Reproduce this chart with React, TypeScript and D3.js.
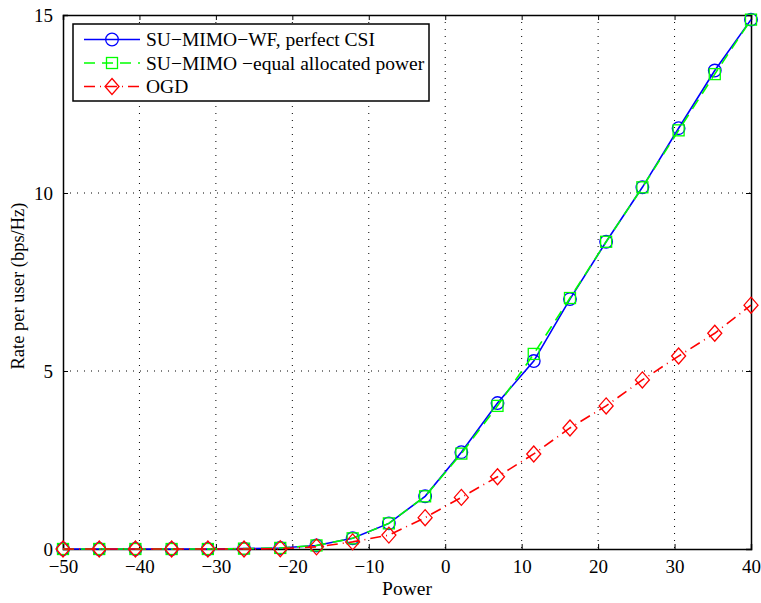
import * as d3 from "d3";
import { useEffect, useRef } from "react";

const powerDb = [
	-50, -45.26, -40.53, -35.79, -31.05, -26.32, -21.58, -16.84, -12.11, -7.37,
	-2.63, 2.11, 6.84, 11.58, 16.32, 21.05, 25.79, 30.53, 35.26, 40,
];
const wfRate = [
	0, 0, 0, 0, 0, 0.01, 0.03, 0.1, 0.3, 0.72, 1.48, 2.72, 4.1, 5.28, 7.02, 8.63,
	10.16, 11.82, 13.44, 14.87,
];
const equalRate = [
	0, 0, 0, 0, 0, 0.01, 0.03, 0.1, 0.3, 0.72, 1.48, 2.68, 4.02, 5.48, 7.05, 8.63,
	10.16, 11.76, 13.34, 14.87,
];
const ogdRate = [
	0, 0, 0, 0, 0, 0, 0.01, 0.06, 0.2, 0.39, 0.88, 1.45, 2.03, 2.67, 3.4, 4.02,
	4.75, 5.42, 6.06, 6.85,
];
const xTicks = [-50, -40, -30, -20, -10, 0, 10, 20, 30, 40];
const yTicks = [0, 5, 10, 15];
const legendLabels = [
	"SU\u2212MIMO\u2212WF, perfect CSI",
	"SU\u2212MIMO \u2212equal allocated power",
	"OGD",
];

function RateChart() {
	const ref = useRef<SVGSVGElement>(null);

	function drawChart() {
		const svg = d3.select(ref.current);
		svg.selectAll("*").remove();
		const margin = { top: 15, left: 63, right: 10, bottom: 54 };
		const width = 761 - margin.left - margin.right;
		const height = 603 - margin.top - margin.bottom;
		const font = "Liberation Serif, DejaVu Serif, serif";

		const xScale = d3.scaleLinear().domain([-50, 40]).range([0, width]);
		const yScale = d3.scaleLinear().domain([0, 15]).range([height, 0]);

		const g = svg
			.append("g")
			.attr("transform", `translate(${margin.left},${margin.top})`);

		// dotted grid
		g.selectAll(".vgrid")
			.data(xTicks.slice(1, -1))
			.enter()
			.append("line")
			.attr("x1", (d) => xScale(d))
			.attr("x2", (d) => xScale(d))
			.attr("y1", 0)
			.attr("y2", height)
			.attr("stroke", "#000")
			.attr("stroke-width", 1)
			.attr("stroke-dasharray", "1,6");
		g.selectAll(".hgrid")
			.data(yTicks.slice(1, -1))
			.enter()
			.append("line")
			.attr("x1", 0)
			.attr("x2", width)
			.attr("y1", (d) => yScale(d))
			.attr("y2", (d) => yScale(d))
			.attr("stroke", "#000")
			.attr("stroke-width", 1)
			.attr("stroke-dasharray", "1,6");

		// axes, ticks pointing inward
		const xAxis = d3
			.axisBottom(xScale)
			.tickValues(xTicks)
			.tickSize(-5)
			.tickPadding(11)
			.tickFormat((d) => d3.format("")(d as number).replace("-", "\u2212"));
		const yAxis = d3
			.axisLeft(yScale)
			.tickValues(yTicks)
			.tickSize(-5)
			.tickPadding(10);

		const xa = g.append("g").attr("transform", `translate(0,${height})`).call(xAxis);
		const ya = g.append("g").call(yAxis);
		g.append("g").call(d3.axisTop(xScale).tickValues(xTicks).tickSize(-5).tickFormat(() => ""));
		g.append("g")
			.attr("transform", `translate(${width},0)`)
			.call(d3.axisRight(yScale).tickValues(yTicks).tickSize(-5).tickFormat(() => ""));
		g.selectAll("g").attr("font-family", font);
		[xa, ya].forEach((a) => {
			a.selectAll("text")
				.attr("font-family", font)
				.attr("font-size", 19)
				.attr("fill", "#000");
		});
		g.selectAll(".domain").attr("stroke", "#000").attr("stroke-width", 1.5);
		g.selectAll(".tick line").attr("stroke", "#000");
		ya.selectAll(".tick text").attr("dy", "0.35em");

		// series
		const series = [
			{ values: wfRate, color: "#0000ff", dash: "none", marker: "circle" },
			{ values: equalRate, color: "#00ff00", dash: "11,7", marker: "square" },
			{ values: ogdRate, color: "#ff0000", dash: "11,5,1,5", marker: "diamond" },
		];

		const line = d3
			.line<number>()
			.x((d, i) => xScale(powerDb[i]))
			.y((d) => yScale(d));

		function drawMarker(sel: any, kind: string, color: string) {
			if (kind === "circle") {
				sel.append("circle")
					.attr("r", 6.3)
					.attr("fill", "none")
					.attr("stroke", color)
					.attr("stroke-width", 1.3);
			} else if (kind === "square") {
				sel.append("rect")
					.attr("x", -5.5)
					.attr("y", -5.5)
					.attr("width", 11)
					.attr("height", 11)
					.attr("fill", "none")
					.attr("stroke", color)
					.attr("stroke-width", 1.3);
			} else {
				sel.append("path")
					.attr("d", "M0,-8L7,0L0,8L-7,0Z")
					.attr("fill", "none")
					.attr("stroke", color)
					.attr("stroke-width", 1.3);
			}
		}

		series.forEach((s) => {
			g.append("path")
				.datum(s.values)
				.attr("d", line)
				.attr("fill", "none")
				.attr("stroke", s.color)
				.attr("stroke-width", 1.6)
				.attr("stroke-dasharray", s.dash);
			const pts = g
				.selectAll(".pt-" + s.marker)
				.data(s.values)
				.enter()
				.append("g")
				.attr("transform", (d, i) => `translate(${xScale(powerDb[i])},${yScale(d)})`);
			drawMarker(pts, s.marker, s.color);
		});

		// legend
		const legend = g.append("g").attr("transform", "translate(10,9)");
		legend
			.append("rect")
			.attr("width", 356)
			.attr("height", 77)
			.attr("fill", "#fff")
			.attr("stroke", "#000")
			.attr("stroke-width", 1.5);
		series.forEach((s, i) => {
			const row = legend.append("g").attr("transform", `translate(0,${15.5 + i * 23.5})`);
			row.append("line")
				.attr("x1", 11)
				.attr("x2", 67)
				.attr("stroke", s.color)
				.attr("stroke-width", 1.6)
				.attr("stroke-dasharray", s.dash);
			drawMarker(row.append("g").attr("transform", "translate(39,0)"), s.marker, s.color);
			row.append("text")
				.attr("x", 73)
				.attr("dy", "0.35em")
				.attr("font-family", font)
				.attr("font-size", 19.5)
				.text(legendLabels[i]);
		});

		// labels
		svg.append("text")
			.attr("x", margin.left + width / 2)
			.attr("y", 595)
			.attr("text-anchor", "middle")
			.attr("font-family", font)
			.attr("font-size", 19.5)
			.text("Power");
		svg.append("text")
			.attr("transform", `translate(24,${margin.top + height / 2 + 4}) rotate(-90)`)
			.attr("text-anchor", "middle")
			.attr("font-family", font)
			.attr("font-size", 18.5)
			.text("Rate per user (bps/Hz)");
	}

	useEffect(() => {
		drawChart();
	}, []);

	return (
		<svg
			ref={ref}
			width={761}
			height={603}
			style={{ position: "absolute", left: 0, top: 0, background: "#fff", overflow: "visible" }}
		></svg>
	);
}

export default function App() {
	return <RateChart />;
}
